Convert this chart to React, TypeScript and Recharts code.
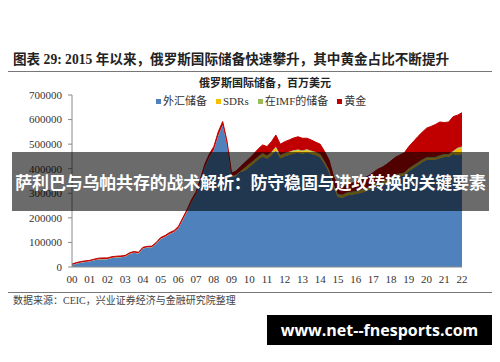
import { AreaChart, Area, XAxis, YAxis } from "recharts";

// ─── 数据（季度，百万美元）──────────────────────────────

const YEARS = [
  2000, 2001, 2002, 2003, 2004, 2005, 2006, 2007, 2008, 2009, 2010, 2011,
  2012, 2013, 2014, 2015, 2016, 2017, 2018, 2019, 2020, 2021, 2022,
];

const Y_TICKS = [0, 100000, 200000, 300000, 400000, 500000, 600000, 700000];

// 外汇储备
const fxReserve = [
  7000, 13000, 17000, 20000,
  22000, 27000, 31000, 32000,
  32000, 37000, 39000, 40000,
  42000, 53000, 58000, 55000,
  75000, 79000, 79500, 94500,
  114000, 122000, 133500, 141000,
  157000, 191500, 226000, 265000,
  294000, 348000, 407000, 446000,
  475000, 534000, 576000, 496000,
  365500, 370500, 386500, 392000,
  407000, 421000, 437000, 450000,
  441000, 455000, 476000, 443000,
  451000, 456000, 462000, 465000,
  461000, 466000, 460000, 455000,
  446000, 418000, 385000, 325000,
  285000, 282000, 291000, 294000,
  297000, 301000, 306000, 314000,
  323000, 332000, 336000, 344000,
  355000, 365000, 369000, 373000,
  390000, 402000, 413000, 426000,
  435000, 436000, 436000, 443000,
  448000, 448000, 460000, 455000,
  460000,
];

// SDRs
const sdrs = [
  500, 500, 500, 500,
  500, 500, 500, 500,
  500, 500, 500, 500,
  500, 500, 500, 500,
  500, 500, 500, 500,
  500, 500, 500, 500,
  500, 500, 500, 500,
  500, 500, 500, 500,
  500, 500, 500, 500,
  500, 500, 500, 9000,
  9000, 9000, 9000, 9000,
  9000, 9000, 9000, 9000,
  9000, 9000, 9000, 9000,
  9000, 9000, 9000, 9000,
  9000, 7000, 7000, 7000,
  7000, 7000, 7000, 7000,
  7000, 7000, 7000, 7000,
  7000, 7000, 7000, 7000,
  7000, 7000, 7000, 7000,
  7000, 7000, 7000, 7000,
  7000, 7000, 7000, 7000,
  7000, 7000, 7000, 25000,
  25000,
];

// 在IMF的储备
const imfPosition = [
  500, 500, 500, 500,
  500, 500, 500, 500,
  500, 500, 500, 500,
  500, 500, 500, 500,
  500, 500, 500, 500,
  500, 500, 500, 500,
  500, 500, 500, 500,
  500, 500, 500, 500,
  500, 500, 500, 500,
  4000, 4000, 4000, 4000,
  4000, 4000, 4000, 4000,
  4000, 4000, 4000, 4000,
  4000, 4000, 4000, 4000,
  4000, 4000, 4000, 4000,
  5000, 5000, 5000, 5000,
  5000, 5000, 5000, 5000,
  5000, 5000, 5000, 5000,
  5000, 5000, 5000, 5000,
  5000, 5000, 5000, 5000,
  5000, 5000, 5000, 5000,
  5000, 5000, 5000, 5000,
  5000, 5000, 5000, 5000,
  5000,
];

// 黄金
const gold = [
  4000, 4000, 4000, 4000,
  4000, 4000, 4000, 4000,
  4000, 4000, 4000, 4000,
  4000, 4000, 4000, 4000,
  4000, 4000, 4500, 4500,
  5000, 5000, 5500, 6000,
  7000, 7500, 8000, 9000,
  10000, 11000, 12000, 13000,
  14000, 15000, 15000, 13000,
  13000, 15000, 17000, 20000,
  22000, 26000, 30000, 34000,
  36000, 42000, 48000, 44000,
  46000, 48000, 50000, 52000,
  50000, 45000, 44000, 40000,
  40000, 40000, 38000, 33000,
  28000, 30000, 32000, 34000,
  38000, 42000, 45000, 46000,
  50000, 54000, 58000, 62000,
  65000, 70000, 75000, 80000,
  88000, 96000, 105000, 110000,
  118000, 124000, 132000, 135000,
  128000, 130000, 140000, 133000,
  138000,
];

const COLORS = {
  fx: "#4f81bd",
  sdr: "#f5c000",
  imf: "#9bbb59",
  gold: "#c00000",
};

const LEGEND = [
  { label: "外汇储备", color: COLORS.fx },
  { label: "SDRs", color: COLORS.sdr },
  { label: "在IMF的储备", color: COLORS.imf },
  { label: "黄金", color: COLORS.gold },
];

const data = fxReserve.map((fx, i) => ({
  t: 2000 + i / 4,
  fx,
  sdr: sdrs[i],
  imf: imfPosition[i],
  gold: gold[i],
}));

const SERIF = '"Liberation Serif", "Noto Sans CJK SC", serif';

export default function App() {
  return (
    <div
      style={{
        position: "absolute",
        left: 0,
        top: 0,
        width: 500,
        height: 362,
        background: "#fff",
        overflow: "hidden",
        fontFamily: SERIF,
      }}
    >
      {/* 图表标题 */}
      <div
        style={{
          position: "absolute",
          left: 13,
          top: 51,
          fontSize: 13.6,
          fontWeight: 700,
          color: "#222",
          whiteSpace: "nowrap",
          lineHeight: "18px",
        }}
      >
        图表 29: 2015 年以来，俄罗斯国际储备快速攀升，其中黄金占比不断提升
      </div>
      <div style={{ position: "absolute", left: 8, top: 71, width: 484, height: 1, background: "#777" }} />

      <div
        style={{
          position: "absolute",
          left: 0,
          width: 530,
          top: 76,
          textAlign: "center",
          fontSize: 11,
          fontWeight: 700,
          color: "#222",
          lineHeight: "14px",
        }}
      >
        俄罗斯国际储备，百万美元
      </div>

      {/* 图例 */}
      <div
        style={{
          position: "absolute",
          left: 156,
          top: 94,
          display: "flex",
          gap: 9,
          fontSize: 11,
          color: "#333",
          lineHeight: "14px",
          whiteSpace: "nowrap",
        }}
      >
        {LEGEND.map((l) => (
          <div key={l.label} style={{ display: "flex", alignItems: "center", gap: 2 }}>
            <span style={{ width: 5, height: 5, background: l.color, display: "inline-block" }} />
            <span>{l.label}</span>
          </div>
        ))}
      </div>

      <div style={{ position: "absolute", left: 0, top: 0 }}>
        <AreaChart
          width={500}
          height={300}
          data={data}
          margin={{ top: 95, right: 38, left: 0, bottom: 13 }}
        >
          <XAxis
            dataKey="t"
            type="number"
            domain={[2000, 2022]}
            ticks={YEARS}
            interval={0}
            tickFormatter={(v: number) => String(v).slice(2)}
            tickLine={false}
            axisLine={{ stroke: "#8a8a8a" }}
            tick={{ fontSize: 11, fill: "#333", fontFamily: SERIF }}
            height={20}
          />
          <YAxis
            type="number"
            domain={[0, 700000]}
            ticks={Y_TICKS}
            interval={0}
            width={72}
            tickSize={4}
            tickMargin={6}
            axisLine={{ stroke: "#8a8a8a" }}
            tickLine={{ stroke: "#8a8a8a" }}
            tick={{ fontSize: 11, fill: "#333", fontFamily: SERIF }}
          />
          <Area dataKey="fx" stackId="a" type="linear" fill={COLORS.fx} fillOpacity={1} stroke="none" isAnimationActive={false} />
          <Area dataKey="sdr" stackId="a" type="linear" fill={COLORS.sdr} fillOpacity={1} stroke="none" isAnimationActive={false} />
          <Area dataKey="imf" stackId="a" type="linear" fill={COLORS.imf} fillOpacity={1} stroke="none" isAnimationActive={false} />
          <Area dataKey="gold" stackId="a" type="linear" fill={COLORS.gold} fillOpacity={1} stroke={COLORS.gold} strokeWidth={1} isAnimationActive={false} />
        </AreaChart>
      </div>

      {/* 底部说明 */}
      <div style={{ position: "absolute", left: 8, top: 292, width: 484, height: 1, background: "#777" }} />
      <div
        style={{
          position: "absolute",
          left: 13,
          top: 294,
          fontSize: 10,
          color: "#444",
          whiteSpace: "nowrap",
          lineHeight: "13px",
        }}
      >
        数据来源：CEIC，兴业证券经济与金融研究院整理
      </div>

      {/* 覆盖横幅 */}
      <div
        style={{
          position: "absolute",
          left: 12,
          top: 152,
          width: 477,
          height: 59,
          background: "rgba(0,0,0,0.58)",
          color: "#fff",
          fontFamily: '"Noto Sans CJK SC", sans-serif',
          fontWeight: 700,
          fontSize: 17,
          lineHeight: "59px",
          textAlign: "center",
          whiteSpace: "nowrap",
          letterSpacing: -0.2,
        }}
      >
        萨利巴与乌帕共存的战术解析：防守稳固与进攻转换的关键要素
      </div>

      {/* 水印 */}
      <div
        style={{
          position: "absolute",
          left: 267,
          top: 315,
          width: 225,
          height: 30,
          background: "#000",
          color: "#fff",
          fontFamily: '"Open Sans", sans-serif',
          fontWeight: 700,
          fontSize: 16,
          lineHeight: "30px",
          textAlign: "center",
          whiteSpace: "nowrap",
        }}
      >
        www.net--fnesports.com
      </div>
    </div>
  );
}
